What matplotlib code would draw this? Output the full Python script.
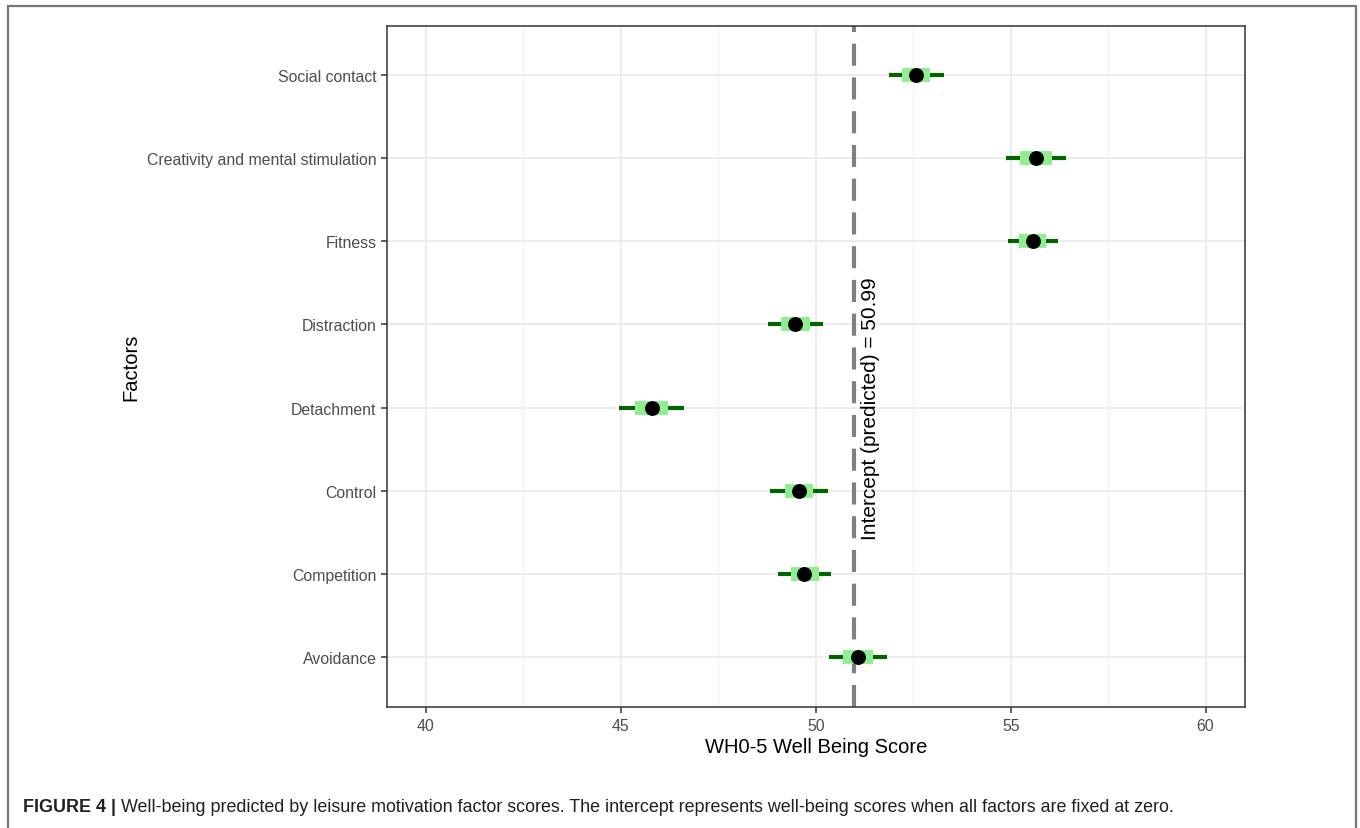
import matplotlib
matplotlib.use("Agg")
import matplotlib.pyplot as plt
from matplotlib import font_manager
from matplotlib.patches import Rectangle

factors = ["Avoidance", "Competition", "Control", "Detachment", "Distraction",
           "Fitness", "Creativity and mental stimulation", "Social contact"]
estimate = [51.08, 49.71, 49.57, 45.79, 49.48, 55.57, 55.65, 52.58]
ci95_low = [50.35, 49.04, 48.83, 44.95, 48.77, 54.92, 54.89, 51.87]
ci95_high = [51.82, 50.39, 50.31, 46.63, 50.19, 56.22, 56.43, 53.30]
ci50_low = [50.71, 49.37, 49.20, 45.37, 49.11, 55.22, 55.25, 52.21]
ci50_high = [51.46, 50.08, 49.94, 46.22, 49.86, 55.92, 56.05, 52.94]
intercept = 50.99
x_ticks = [40, 45, 50, 55, 60]

names = {f.name for f in font_manager.fontManager.ttflist}
base_font = "Liberation Sans" if "Liberation Sans" in names else "DejaVu Sans"
cap_font = "Liberation Sans Narrow" if "Liberation Sans Narrow" in names else base_font
plt.rcParams["font.family"] = [base_font, "DejaVu Sans"]

fig = plt.figure(figsize=(13.6, 8.29), dpi=100)
W, H = 1360, 829
ax = fig.add_axes([387 / W, 1 - 707.5 / H, (1244.5 - 387) / W, (707.5 - 26.5) / H])

ypos = list(range(len(factors)))
ax.set_xlim(39, 61)
ax.set_ylim(-0.6, len(factors) - 1 + 0.6)

# grid
for v in [42.5, 47.5, 52.5, 57.5]:
    ax.axvline(v, color="#F0F0F0", lw=0.9, zorder=0)
for v in x_ticks:
    ax.axvline(v, color="#EBEBEB", lw=1.3, zorder=0)
for y in ypos:
    ax.axhline(y, color="#EBEBEB", lw=1.3, zorder=0)

ax.axvline(intercept, color="#808080", lw=3, linestyle=(0, (5.3, 2.8)), zorder=1)

ax.hlines(ypos, ci95_low, ci95_high, color="#006400", lw=3, zorder=2)
ax.hlines(ypos, ci50_low, ci50_high, color="#90EE90", lw=10, zorder=3)
ax.scatter(estimate, ypos, s=115, color="black", zorder=4, linewidths=0)

ax.text(intercept + 0.42, 3.0, "Intercept (predicted) = 50.99", rotation=90,
        ha="center", va="center", fontsize=15, color="black")

ax.set_xticks(x_ticks)
ax.set_xticklabels([str(t) for t in x_ticks])
ax.set_yticks(ypos)
ax.set_yticklabels(factors)
ax.tick_params(axis="both", colors="#333333", labelcolor="#4D4D4D",
               labelsize=11.4, length=4, width=1.1)
ax.tick_params(axis="x", pad=4)
for s in ax.spines.values():
    s.set_color("#333333")
    s.set_linewidth(1.1)

ax.set_xlabel("WH0-5 Well Being Score", fontsize=14.5, color="black", labelpad=3)
ax.set_ylabel("Factors", fontsize=14.5, color="black", labelpad=5)

# outer frame
fig.patches.append(Rectangle((7.5 / W, -0.01), (1355.5 - 7.5) / W, 1.01 - 6.5 / H,
                             transform=fig.transFigure, fill=False,
                             edgecolor="#777777", lw=1.6))

# caption
cap_y = 1 - 808 / H
t1 = fig.text(23 / W, cap_y, "FIGURE 4 |", fontsize=12.9, fontweight="bold",
              family=[cap_font, "DejaVu Sans"], color="#231F20", va="center")
fig.canvas.draw()
bb = t1.get_window_extent()
fig.text((bb.x1 + 5) / W, cap_y,
         "Well-being predicted by leisure motivation factor scores. The intercept represents "
         "well-being scores when all factors are fixed at zero.",
         fontsize=12.9, family=[cap_font, "DejaVu Sans"], color="#231F20", va="center")

fig.savefig("out.png", dpi=100)
